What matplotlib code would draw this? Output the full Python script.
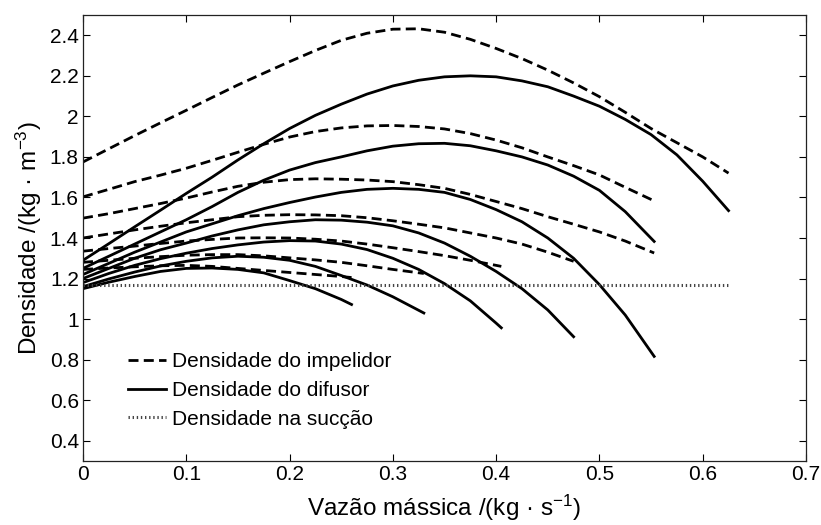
import matplotlib
matplotlib.use('Agg')
import matplotlib.pyplot as plt

plt.rcParams['font.family'] = ['Liberation Sans', 'DejaVu Sans']
plt.rcParams['mathtext.default'] = 'regular'

# Mass flow reading grid (kg/s), each line stops at its own last point
grid = [0, .025, .05, .075, .1, .125, .15, .175, .2, .225, .25, .275, .3,
        .325, .35, .375, .4, .425, .45, .475, .5, .525, .55, .575, .6]
m1 = grid + [.625]
m2 = grid[:22] + [.553]
m3 = grid[:22] + [.553]
m4 = grid[:20]
m5 = grid[:17] + [.405]
m6 = grid[:13] + [.33]
m7 = grid[:11] + [.26]

# Impeller density (dashed)
imp1 = [1.775, 1.84, 1.905, 1.968, 2.03, 2.093, 2.155, 2.213, 2.27, 2.325, 2.375, 2.41, 2.43,
        2.432, 2.415, 2.38, 2.335, 2.285, 2.228, 2.165, 2.097, 2.02, 1.94, 1.87, 1.80, 1.72]
imp2 = [1.603, 1.64, 1.678, 1.71, 1.744, 1.783, 1.823, 1.862, 1.898, 1.925, 1.943, 1.953,
        1.955, 1.95, 1.938, 1.915, 1.883, 1.845, 1.80, 1.757, 1.711, 1.65, 1.583]
imp3 = [1.498, 1.52, 1.545, 1.57, 1.597, 1.627, 1.655, 1.675, 1.688, 1.692, 1.69, 1.686,
        1.678, 1.663, 1.645, 1.615, 1.58, 1.545, 1.505, 1.468, 1.43, 1.385, 1.326]
imp4 = [1.40, 1.42, 1.44, 1.458, 1.475, 1.49, 1.505, 1.512, 1.515, 1.514, 1.51, 1.50,
        1.485, 1.468, 1.45, 1.425, 1.40, 1.37, 1.33, 1.285]
imp5 = [1.335, 1.348, 1.36, 1.373, 1.385, 1.393, 1.40, 1.401, 1.40, 1.394, 1.385, 1.37,
        1.352, 1.333, 1.313, 1.29, 1.265, 1.26]
imp6 = [1.28, 1.29, 1.30, 1.308, 1.315, 1.318, 1.318, 1.312, 1.302, 1.292, 1.28, 1.263,
        1.245, 1.225]
imp7 = [1.245, 1.252, 1.258, 1.263, 1.265, 1.26, 1.25, 1.24, 1.23, 1.22, 1.21, 1.205]

# Diffuser density (solid)
dif1 = [1.29, 1.372, 1.455, 1.537, 1.62, 1.70, 1.785, 1.865, 1.94, 2.005, 2.06, 2.11, 2.15,
        2.178, 2.195, 2.2, 2.195, 2.175, 2.146, 2.10, 2.05, 1.985, 1.91, 1.81, 1.68, 1.535]
dif2 = [1.25, 1.31, 1.37, 1.43, 1.49, 1.555, 1.625, 1.685, 1.735, 1.772, 1.80, 1.83, 1.853,
        1.865, 1.867, 1.855, 1.83, 1.80, 1.76, 1.705, 1.635, 1.53, 1.383]
dif3 = [1.22, 1.275, 1.33, 1.38, 1.43, 1.47, 1.51, 1.545, 1.575, 1.602, 1.625, 1.64, 1.645,
        1.64, 1.625, 1.59, 1.54, 1.48, 1.40, 1.30, 1.17, 1.02, 0.816]
dif4 = [1.20, 1.25, 1.30, 1.342, 1.375, 1.41, 1.44, 1.465, 1.48, 1.49, 1.488, 1.478, 1.46,
        1.425, 1.375, 1.31, 1.235, 1.15, 1.045, 0.913]
dif5 = [1.18, 1.225, 1.265, 1.298, 1.325, 1.348, 1.366, 1.38, 1.387, 1.385, 1.37, 1.343,
        1.30, 1.245, 1.175, 1.09, 0.98, 0.957]
dif6 = [1.16, 1.198, 1.232, 1.262, 1.285, 1.302, 1.31, 1.305, 1.29, 1.26, 1.215, 1.168,
        1.11, 1.03]
dif7 = [1.15, 1.182, 1.21, 1.235, 1.25, 1.252, 1.245, 1.228, 1.19, 1.15, 1.097, 1.072]

# Suction density (dotted)
suc_x = [0, 0.625]
suc = [1.17, 1.17]

xticks = [0, 0.1, 0.2, 0.3, 0.4, 0.5, 0.6, 0.7]
xlabels = ['0', '0.1', '0.2', '0.3', '0.4', '0.5', '0.6', '0.7']
yticks = [0.4, 0.6, 0.8, 1.0, 1.2, 1.4, 1.6, 1.8, 2.0, 2.2, 2.4]
ylabels = ['0.4', '0.6', '0.8', '1', '1.2', '1.4', '1.6', '1.8', '2', '2.2', '2.4']

fig = plt.figure(figsize=(8.21, 5.25), dpi=100)
ax = fig.add_axes([83 / 821, 64 / 525, 723 / 821, 446 / 525])

lw = 2.0
dash = (3.6, 1.9)
masses = [m1, m2, m3, m4, m5, m6, m7]
imps = [imp1, imp2, imp3, imp4, imp5, imp6, imp7]
difs = [dif1, dif2, dif3, dif4, dif5, dif6, dif7]

for i, (m, y) in enumerate(zip(masses, imps)):
    ax.plot(m, y, color='black', lw=lw, dashes=dash,
            label='Densidade do impelidor' if i == 0 else None)
for i, (m, y) in enumerate(zip(masses, difs)):
    ax.plot(m, y, color='black', lw=lw, solid_joinstyle='round',
            label='Densidade do difusor' if i == 0 else None)
ax.plot(suc_x, suc, color='#444444', lw=2.2, dashes=(0.45, 0.9),
        label='Densidade na sucção')

ax.set_xlim(0, 0.7)
ax.set_ylim(0.3, 2.5)
ax.set_xticks(xticks)
ax.set_xticklabels(xlabels)
ax.set_yticks(yticks)
ax.set_yticklabels(ylabels)
ax.tick_params(direction='in', top=True, right=True, length=5, width=0.8,
               labelsize=15, pad=3)
for s in ax.spines.values():
    s.set_linewidth(0.9)
    s.set_color('#222222')

ax.set_xlabel('Vazão mássica /(kg · s$^{-1}$)', fontsize=17.5, labelpad=6)
ax.set_ylabel('Densidade /(kg · m$^{-3}$)', fontsize=17.5, labelpad=4)

ax.legend(loc='upper left', bbox_to_anchor=(0.062, 0.244), frameon=False,
          fontsize=15, handlelength=1.85, handletextpad=0.25, labelspacing=0.47,
          borderpad=0, borderaxespad=0)

fig.savefig('out.png', dpi=100)
